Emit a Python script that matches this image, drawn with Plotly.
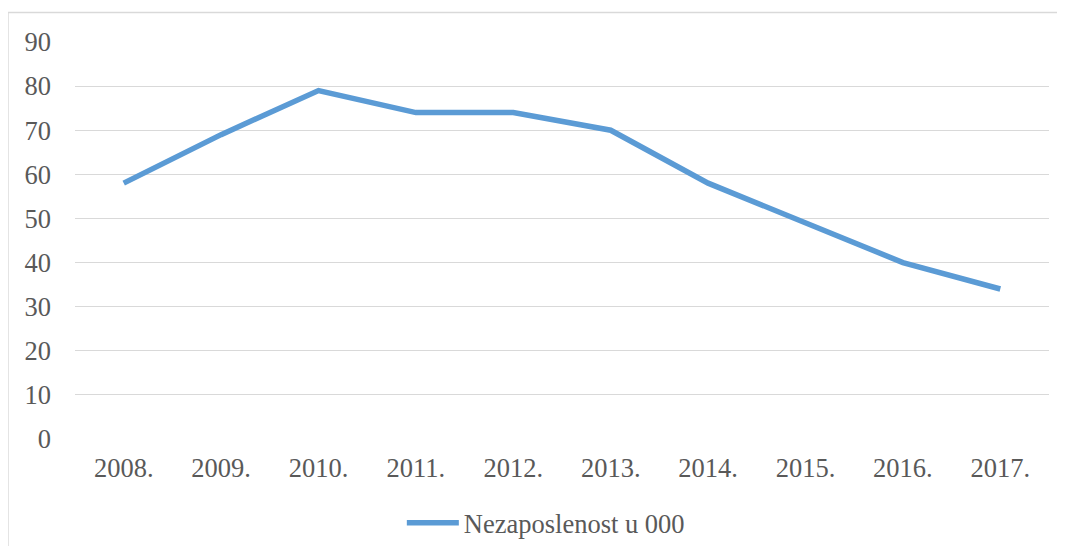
import plotly.graph_objects as go

years = ["2008.", "2009.", "2010.", "2011.", "2012.", "2013.", "2014.", "2015.", "2016.", "2017."]
values = [58, 69, 79, 74, 74, 70, 58, 49, 40, 34]
series_name = "Nezaposlenost u 000"
y_ticks = [0, 10, 20, 30, 40, 50, 60, 70, 80, 90]

# The page body adds an 8px margin, so the figure is sized to fill the rest.
OFF = 8
W, H = 1065 - OFF, 554 - 2 * OFF
# Plot area in page pixels: x 75.4..1048.7, y 42..439
L = 75.4 - OFF
R = 1065 - 1048.7
T = 42 - OFF
B = (554 - OFF) - 439
pw = W - L - R
ph = H - T - B

def px_x(x):  # page pixel -> paper
    return (x - OFF - L) / pw

def px_y(y):
    return (H - B - (y - OFF)) / ph

font_family = "Liberation Serif, Times New Roman, serif"
text_color = "#595959"
fs = 26.5
border = "#d9d9d9"

fig = go.Figure()
fig.add_trace(go.Scatter(
    x=list(range(len(years))), y=values, mode="lines", name=series_name,
    line=dict(color="#5B9BD5", width=5.5),
))

fig.update_layout(
    width=W, height=H,
    margin=dict(l=L, r=R, t=T, b=B, autoexpand=False),
    paper_bgcolor="white", plot_bgcolor="white",
    font=dict(family=font_family, size=fs, color=text_color),
    showlegend=True,
    legend=dict(
        orientation="h", x=px_x(402), y=px_y(523), xanchor="left", yanchor="middle",
        font=dict(family=font_family, size=fs, color=text_color),
        bgcolor="rgba(0,0,0,0)", itemwidth=52,
    ),
    xaxis=dict(
        range=[-0.5, 9.5], tickmode="array", tickvals=list(range(len(years))),
        ticktext=years, showgrid=False, zeroline=False, showline=False,
        ticks="", ticklabelstandoff=10,
        tickfont=dict(family=font_family, size=fs, color=text_color),
    ),
    yaxis=dict(
        range=[0, 90], tickmode="array", tickvals=y_ticks,
        showgrid=True, gridcolor="#d9d9d9", gridwidth=1.3,
        zeroline=False, showline=False, ticks="", ticklabelstandoff=23,
        tickfont=dict(family=font_family, size=fs, color=text_color),
    ),
    shapes=[
        dict(type="line", xref="paper", yref="paper",
             x0=px_x(8.5), x1=px_x(1070), y0=px_y(12.5), y1=px_y(12.5),
             line=dict(color=border, width=1.3), layer="below"),
        dict(type="line", xref="paper", yref="paper",
             x0=px_x(8.5), x1=px_x(8.5), y0=px_y(12.5), y1=px_y(560),
             line=dict(color=border, width=1.3), layer="below"),
    ],
)

fig.write_html("out.html")
